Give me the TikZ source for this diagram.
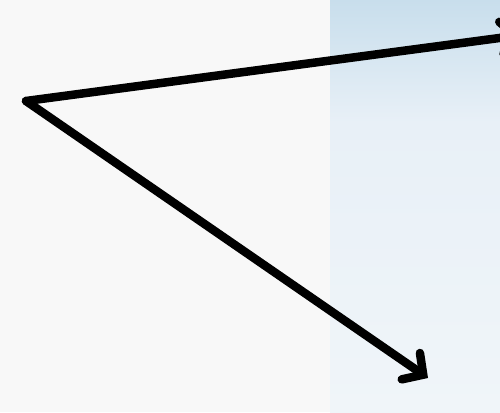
\documentclass[tikz,border=0pt]{standalone}
\usetikzlibrary{arrows.meta}
\definecolor{bgleft}{RGB}{248,248,248}
\definecolor{icetop}{RGB}{200,222,236}
\definecolor{icemid}{RGB}{232,240,247}
\definecolor{icebot}{RGB}{240,245,249}
\tikzset{
  pointer/.style={line width=8.5pt, line cap=round, line join=round,
    -{Straight Barb[length=15pt, width=32pt, line cap=round]}}
}
\begin{document}
\begin{tikzpicture}[x=1pt,y=1pt]
\useasboundingbox (0,0) rectangle (500,412);
\clip (0,0) rectangle (500,412);
\fill[bgleft] (0,0) rectangle (500,412);
\shade[top color=icetop, bottom color=icemid] (330,412) rectangle (500,290);
\shade[top color=icemid, bottom color=icebot] (330,290.5) rectangle (500,0);
\coordinate (origin) at (26,311);
\coordinate (upper) at (522,377);
\coordinate (lower) at (428,34);
\draw[pointer] (origin) -- (upper);
\draw[pointer] (origin) -- (lower);
\end{tikzpicture}
\end{document}
